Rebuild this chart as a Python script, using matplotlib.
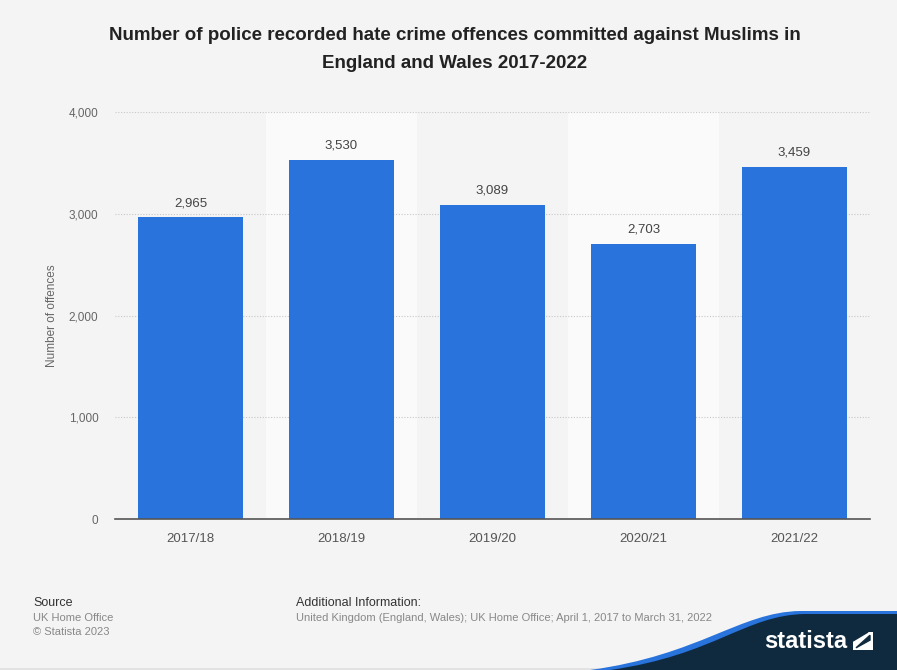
import matplotlib
matplotlib.use("Agg")
import matplotlib.pyplot as plt
from matplotlib.patches import PathPatch, Rectangle
from matplotlib.path import Path
import numpy as np

categories = ["2017/18", "2018/19", "2019/20", "2020/21", "2021/22"]
values = [2965, 3530, 3089, 2703, 3459]
yticks = [0, 1000, 2000, 3000, 4000]
ytick_labels = ["0", "1,000", "2,000", "3,000", "4,000"]

plt.rcParams['font.family'] = ['Liberation Sans', 'DejaVu Sans']

W, H = 897, 670
fig = plt.figure(figsize=(W/100, H/100), dpi=100)
fig.patch.set_facecolor('#f4f4f4')

ax = fig.add_axes([115/W, 1-519/H, (870-115)/W, (519-112)/H])
ax.set_facecolor('#f4f4f4')
x = np.arange(len(categories))
for i in x:
    if i % 2 == 1:
        ax.axvspan(i-0.5, i+0.5, color='#fafafa', zorder=0, lw=0)
ax.set_xlim(-0.5, len(categories)-0.5)
ax.set_ylim(0, 4000)
ax.set_yticks(yticks)
ax.set_yticklabels(ytick_labels)
ax.yaxis.grid(True, linestyle=(0, (1, 1.5)), color='#c8c8c8', lw=0.8, zorder=1)
ax.set_axisbelow(True)
bars = ax.bar(x, values, width=0.69, color='#2873dc', zorder=2)
for xi, v in zip(x, values):
    ax.text(xi, v + 80, f"{v:,}", ha='center', va='bottom', fontsize=9.5, color='#444444', zorder=3)
ax.set_xticks(x)
ax.set_xticklabels(categories)
for s in ['top', 'right', 'left']:
    ax.spines[s].set_visible(False)
ax.spines['bottom'].set_color('#555555')
ax.spines['bottom'].set_linewidth(1.2)
ax.tick_params(axis='both', length=0, colors='#666666', labelsize=8.5)
ax.tick_params(axis='x', pad=10, labelsize=9.5, colors='#555555')
ax.tick_params(axis='y', pad=12)
ax.set_ylabel("Number of offences", fontsize=8.5, color='#666666')
ax.yaxis.set_label_coords(-(115-58)/(870-115), 0.5)

fig.text(455/W, 1-35/H, "Number of police recorded hate crime offences committed against Muslims in",
         ha='center', va='center', fontsize=13.5, fontweight='bold', color='#222222')
fig.text(455/W, 1-63/H, "England and Wales 2017-2022",
         ha='center', va='center', fontsize=13.5, fontweight='bold', color='#222222')

fig.text(33/W, 1-603/H, "Source", fontsize=9, color='#333333', va='center')
fig.text(33/W, 1-618/H, "UK Home Office", fontsize=8, color='#888888', va='center')
fig.text(33/W, 1-632/H, "© Statista 2023", fontsize=8, color='#888888', va='center')
fig.text(296/W, 1-603/H, "Additional Information:", fontsize=9, color='#333333', va='center')
fig.text(296/W, 1-618/H, "United Kingdom (England, Wales); UK Home Office; April 1, 2017 to March 31, 2022",
         fontsize=8, color='#888888', va='center')

# bottom border
fig.patches.append(Rectangle((0, 0), W, 2, transform=None, facecolor='#e2e2e2', edgecolor='none', zorder=1))

# logo swoosh (figure pixel coords, y up)
def fy(y):
    return H - y
codes = [Path.MOVETO, Path.CURVE4, Path.CURVE4, Path.CURVE4, Path.LINETO, Path.LINETO, Path.CLOSEPOLY]
verts_blue = [(590, fy(670)), (700, fy(655)), (740, fy(612)), (800, fy(611)),
              (897, fy(611)), (897, fy(670)), (590, fy(670))]
fig.patches.append(PathPatch(Path(verts_blue, codes), transform=None, facecolor='#2873dc', edgecolor='none', zorder=1))
verts_dark = [(610, fy(670)), (715, fy(655)), (745, fy(615)), (805, fy(614)),
              (897, fy(614)), (897, fy(670)), (610, fy(670))]
fig.patches.append(PathPatch(Path(verts_dark, codes), transform=None, facecolor='#0f2a3f', edgecolor='none', zorder=1))
fig.text(806/W, 1-641/H, "statista", fontsize=17, fontweight='bold', color='white',
         ha='center', va='center', zorder=3)
# logo icon
ax_icon = fig.add_axes([853/W, 1-650/H, 20/W, 18/H], zorder=5)
ax_icon.set_xlim(0, 1); ax_icon.set_ylim(0, 1); ax_icon.axis('off')
ax_icon.add_patch(Rectangle((0, 0), 1, 1, facecolor='white', edgecolor='none'))
ax_icon.fill([0.15, 0.85, 0.85, 0.15], [0.12, 0.82, 0.55, 0.12], color='#0f2a3f')
ax_icon.fill([0.0, 0.75, 0.0], [0.5, 1.0, 1.0], color='#0f2a3f')

fig.savefig("out.png", dpi=100, facecolor=fig.get_facecolor())
